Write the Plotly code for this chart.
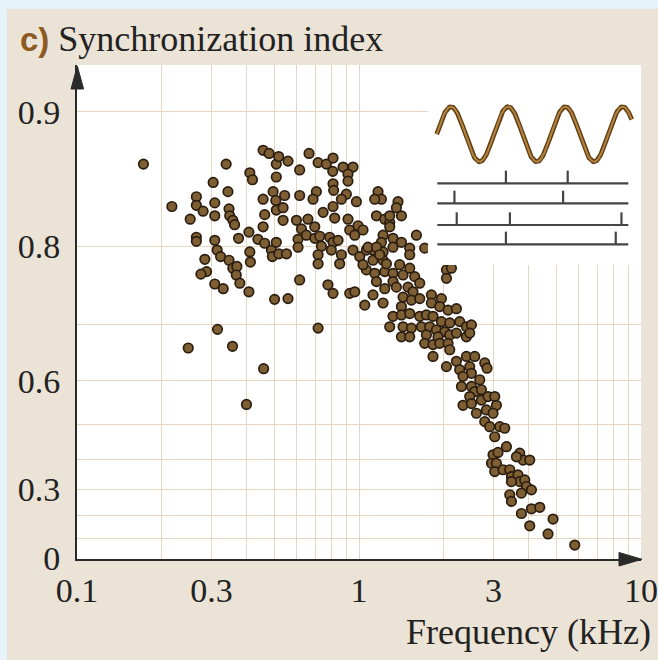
import numpy as np
import plotly.graph_objects as go

# ---------------- data ----------------
freq_khz = [
    0.172, 0.338, 0.410, 0.419, 0.304, 0.343, 0.265, 0.265, 0.280, 0.308,
    0.308, 0.346, 0.348, 0.357, 0.362, 0.217, 0.252, 0.265, 0.265, 0.308,
    0.314, 0.323, 0.346, 0.357, 0.369, 0.367, 0.378, 0.284, 0.288, 0.275,
    0.308, 0.330, 0.407, 0.374, 0.407, 0.410, 0.412, 0.438, 0.463, 0.489,
    0.493, 0.509, 0.457, 0.463, 0.457, 0.496, 0.507, 0.509, 0.509, 0.509,
    0.457, 0.480, 0.502, 0.315, 0.248, 0.356, 0.459, 0.399, 0.519, 0.520,
    0.665, 0.560, 0.616, 0.716, 0.766, 0.809, 0.878, 0.952, 0.914, 0.914,
    0.809, 0.813, 0.706, 0.687, 0.616, 0.545, 0.538, 0.538, 0.902, 0.866,
    0.979, 0.809, 0.746, 0.820, 0.914, 0.927, 0.992, 0.966, 0.600, 0.659,
    0.625, 0.697, 0.608, 0.608, 0.651, 0.697, 0.736, 0.787, 0.809, 0.843,
    0.798, 0.866, 0.854, 0.716, 0.716, 0.553, 0.952, 0.616, 0.776, 0.809,
    0.927, 0.966, 0.560, 0.716, 0.726, 0.807,
    1.168, 1.201, 1.137, 1.375, 1.357, 1.414, 1.153, 1.234, 1.285, 1.285,
    1.033, 1.217, 1.201, 1.320, 1.414, 1.513, 1.598, 1.710, 1.513, 1.121,
    1.062, 1.121, 1.217, 1.217, 1.062, 1.137, 1.234, 1.320, 1.433, 1.513,
    1.394, 1.576, 1.642, 1.320, 1.357, 1.492, 1.554, 1.121, 1.048, 1.217,
    1.433, 1.414, 1.534, 1.642, 1.806, 1.806, 1.960, 1.933, 2.069, 2.215,
    1.320, 1.414, 1.513, 1.642, 1.734, 1.830, 1.960, 2.098, 2.276, 2.404,
    2.042, 2.127, 2.042, 1.285, 1.433, 1.534, 1.665, 1.781, 1.881, 2.014,
    1.414, 1.513, 1.734, 1.906, 2.098, 2.215, 2.404, 1.285, 1.006, 1.076,
    1.153, 1.184, 1.320, 1.033, 1.153, 1.234, 1.251,
    1.710, 1.830, 1.933, 2.069, 2.098, 1.830, 2.042, 2.215, 2.404, 2.573,
    2.276, 2.470, 2.504, 2.792, 2.844, 2.338, 2.308, 2.504, 2.680, 2.573,
    2.717, 2.470, 2.338, 2.504, 2.717, 2.868, 3.029, 3.071, 2.608, 2.830,
    2.988, 2.792, 2.908, 3.155, 3.287, 3.029, 2.504, 2.470,
    3.333, 2.988, 3.112, 2.949, 3.071, 3.029, 3.242, 3.424, 3.715, 3.817,
    4.031, 3.472, 3.664, 3.715, 3.472, 3.870, 3.924, 4.088, 3.767, 3.424,
    3.472, 3.767, 4.088, 4.375, 4.031, 4.877, 4.681, 5.822, 3.616,
]
sync_index = [
    0.869, 0.869, 0.863, 0.858, 0.856, 0.849, 0.845, 0.838, 0.833, 0.840,
    0.829, 0.835, 0.829, 0.825, 0.821, 0.837, 0.826, 0.809, 0.805, 0.806,
    0.796, 0.789, 0.785, 0.776, 0.778, 0.768, 0.758, 0.786, 0.772, 0.769,
    0.757, 0.751, 0.747, 0.808, 0.814, 0.794, 0.783, 0.807, 0.803, 0.796,
    0.789, 0.804, 0.843, 0.830, 0.819, 0.849, 0.842, 0.834, 0.860, 0.869,
    0.878, 0.876, 0.737, 0.693, 0.662, 0.665, 0.624, 0.548, 0.874, 0.792,
    0.876, 0.871, 0.865, 0.870, 0.869, 0.873, 0.867, 0.867, 0.862, 0.857,
    0.855, 0.850, 0.849, 0.843, 0.846, 0.846, 0.836, 0.825, 0.847, 0.843,
    0.841, 0.837, 0.832, 0.827, 0.826, 0.816, 0.820, 0.811, 0.825, 0.826,
    0.817, 0.819, 0.807, 0.799, 0.811, 0.808, 0.800, 0.809, 0.804, 0.806,
    0.796, 0.791, 0.781, 0.791, 0.781, 0.792, 0.796, 0.762, 0.756, 0.745,
    0.745, 0.747, 0.738, 0.695, 0.810, 0.864,
    0.849, 0.843, 0.843, 0.841, 0.836, 0.829, 0.829, 0.826, 0.823, 0.829,
    0.816, 0.811, 0.804, 0.808, 0.804, 0.798, 0.811, 0.798, 0.791, 0.796,
    0.796, 0.785, 0.785, 0.794, 0.774, 0.770, 0.772, 0.770, 0.768, 0.776,
    0.780, 0.766, 0.758, 0.760, 0.753, 0.753, 0.747, 0.743, 0.729, 0.732,
    0.740, 0.727, 0.736, 0.738, 0.743, 0.732, 0.738, 0.727, 0.722, 0.724,
    0.713, 0.715, 0.717, 0.713, 0.715, 0.713, 0.705, 0.703, 0.705, 0.697,
    0.774, 0.776, 0.764, 0.697, 0.697, 0.695, 0.697, 0.697, 0.692, 0.689,
    0.681, 0.681, 0.684, 0.681, 0.684, 0.687, 0.681, 0.819, 0.789, 0.799,
    0.799, 0.791, 0.799, 0.780, 0.760, 0.751, 0.781,
    0.670, 0.668, 0.670, 0.670, 0.659, 0.647, 0.628, 0.638, 0.647, 0.647,
    0.622, 0.628, 0.615, 0.635, 0.625, 0.609, 0.588, 0.588, 0.602, 0.577,
    0.581, 0.566, 0.546, 0.550, 0.558, 0.566, 0.566, 0.546, 0.527, 0.535,
    0.527, 0.506, 0.493, 0.493, 0.489, 0.466, 0.700, 0.687,
    0.438, 0.414, 0.421, 0.388, 0.388, 0.361, 0.367, 0.367, 0.419, 0.398,
    0.398, 0.344, 0.350, 0.327, 0.327, 0.333, 0.310, 0.298, 0.286, 0.280,
    0.255, 0.207, 0.226, 0.232, 0.155, 0.184, 0.119, 0.067, 0.408,
]

x_grid_vals = [0.1, 0.2, 0.3, 0.4, 0.5, 0.6, 0.7, 0.8, 0.9,
               1, 2, 3, 4, 5, 6, 7, 8, 9, 10]
x_grid_text = ["0.1", "", "0.3", "", "", "", "", "", "",
               "1", "", "3", "", "", "", "", "", "", "10"]
si_grid_vals = [0, 0.1, 0.2, 0.3, 0.4, 0.5, 0.6, 0.7, 0.8, 0.9]
si_grid_text = ["0", "", "", "0.3", "", "", "0.6", "", "0.8", "0.9"]

# inset: stimulus cycles and phase-locked spike times (in stimulus periods)
inset_cycles = 3.41
spike_times = [[1.21, 2.29], [0.31, 2.21], [0.35, 1.28, 3.23], [1.21, 3.13]]
train_levels = [-1.785, -2.513, -3.302, -4.004]
train_span = [0.01, 3.35]
spike_height = 0.46


def si_scale(v):
    """Axis scale used by the figure: -log10(1 - SI)."""
    return -np.log10(1.0 - np.asarray(v, dtype=float))


# ---------------- figure ----------------
W, H = 658, 660
ML, MR, MT, MB = 77, 17, 65, 101
PW, PH = W - ML - MR, H - MT - MB


def px(xp):
    return (xp - ML) / PW


def py(yp):
    return (H - MB - yp) / PH


SERIF = "Liberation Serif, Times New Roman, serif"
GRID = "#E7D6C0"
AXIS = "#2A2A2A"
BLUE = "#E6F3FB"

fig = go.Figure()

fig.add_trace(go.Scatter(
    x=freq_khz, y=si_scale(sync_index), mode="markers",
    marker=dict(size=9.5, color="#7E5E33",
                line=dict(color="#2A1D10", width=1.7)),
    xaxis="x", yaxis="y", showlegend=False, hoverinfo="skip"))

# inset: sine stimulus
sx = np.linspace(0, inset_cycles, 400)
sy = np.sin(2 * np.pi * sx)
fig.add_trace(go.Scatter(x=sx, y=sy, mode="lines",
                         line=dict(color="#5E3E15", width=4.8),
                         xaxis="x2", yaxis="y2", showlegend=False, hoverinfo="skip"))
fig.add_trace(go.Scatter(x=sx, y=sy, mode="lines",
                         line=dict(color="#B5843F", width=2.0),
                         xaxis="x2", yaxis="y2", showlegend=False, hoverinfo="skip"))

# inset: spike trains
tx, ty = [], []
for lvl, times in zip(train_levels, spike_times):
    tx += [train_span[0], train_span[1], None]
    ty += [lvl, lvl, None]
    for t in times:
        tx += [t, t, None]
        ty += [lvl, lvl + spike_height, None]
fig.add_trace(go.Scatter(x=tx, y=ty, mode="lines",
                         line=dict(color="#454545", width=2.2),
                         xaxis="x2", yaxis="y2", showlegend=False, hoverinfo="skip"))

shapes = [
    # light-blue outer border strips (left and top)
    dict(type="rect", xref="paper", yref="paper",
         x0=px(0), x1=px(7), y0=py(H), y1=py(0),
         fillcolor=BLUE, line=dict(width=0), layer="below"),
    dict(type="rect", xref="paper", yref="paper",
         x0=px(0), x1=px(W), y0=py(9), y1=py(0),
         fillcolor=BLUE, line=dict(width=0), layer="below"),
    # arrow heads
    dict(type="path", xref="paper", yref="paper",
         path=f"M {px(77.3)},{py(66)} L {px(71)},{py(89)} L {px(83.6)},{py(89)} Z",
         fillcolor=AXIS, line=dict(color=AXIS, width=1), layer="above"),
    dict(type="path", xref="paper", yref="paper",
         path=f"M {px(642)},{py(559.3)} L {px(619)},{py(552.5)} L {px(619)},{py(566)} Z",
         fillcolor=AXIS, line=dict(color=AXIS, width=1), layer="above"),
]

annotations = [
    dict(xref="paper", yref="paper", x=px(18), y=py(39),
         xanchor="left", yanchor="middle", showarrow=False,
         text="<span style='font-family:Liberation Sans, Arial, sans-serif;font-size:33px;color:#8C5A22'><b>c)</b></span> Synchronization index",
         font=dict(family=SERIF, size=36, color="#222222")),
    dict(xref="paper", yref="paper", x=px(653), y=py(632),
         xanchor="right", yanchor="middle", showarrow=False,
         text="Frequency (kHz)",
         font=dict(family=SERIF, size=36, color="#222222")),
]

# inset subplot area (its white background hides the grid there)
inset_left, inset_bottom = 428, 265
x2_period_px, x2_start_px = 57.2, 436.7
y2_unit_px, y2_center_px = 27.5, 134.2

fig.update_layout(
    width=W, height=H,
    margin=dict(l=ML, r=MR, t=MT, b=MB, pad=0, autoexpand=False),
    paper_bgcolor="#EBE3D5",
    plot_bgcolor="white",
    shapes=shapes,
    annotations=annotations,
    xaxis=dict(type="log", range=[-1, 1], tickvals=x_grid_vals, ticktext=x_grid_text,
               showgrid=True, gridcolor=GRID, gridwidth=1, zeroline=False,
               showline=True, linecolor=AXIS, linewidth=2, ticks="",
               automargin=False,
               tickfont=dict(family=SERIF, size=34, color="#222222"),
               domain=[0, 1]),
    yaxis=dict(range=[float(si_scale(0) - 0.0011), 1.1045],
               tickvals=si_scale(si_grid_vals), ticktext=si_grid_text,
               showgrid=True, gridcolor=GRID, gridwidth=1, zeroline=False,
               showline=True, linecolor=AXIS, linewidth=2, ticks="",
               ticklabelstandoff=8, automargin=False,
               tickfont=dict(family=SERIF, size=34, color="#222222"),
               domain=[0, 1]),
    xaxis2=dict(domain=[px(inset_left), 1.0], anchor="y2", visible=False,
                range=[(inset_left - x2_start_px) / x2_period_px,
                       (ML + PW - x2_start_px) / x2_period_px]),
    yaxis2=dict(domain=[py(inset_bottom), 1.0], anchor="x2", visible=False,
                range=[(y2_center_px - inset_bottom) / y2_unit_px,
                       (y2_center_px - MT) / y2_unit_px]),
)

fig.write_html(
    "out.html",
    config={"displayModeBar": False},
    post_script=("document.body.style.margin='0';"
                 "document.body.style.padding='0';"
                 "document.body.style.background='" + BLUE + "';"),
)
